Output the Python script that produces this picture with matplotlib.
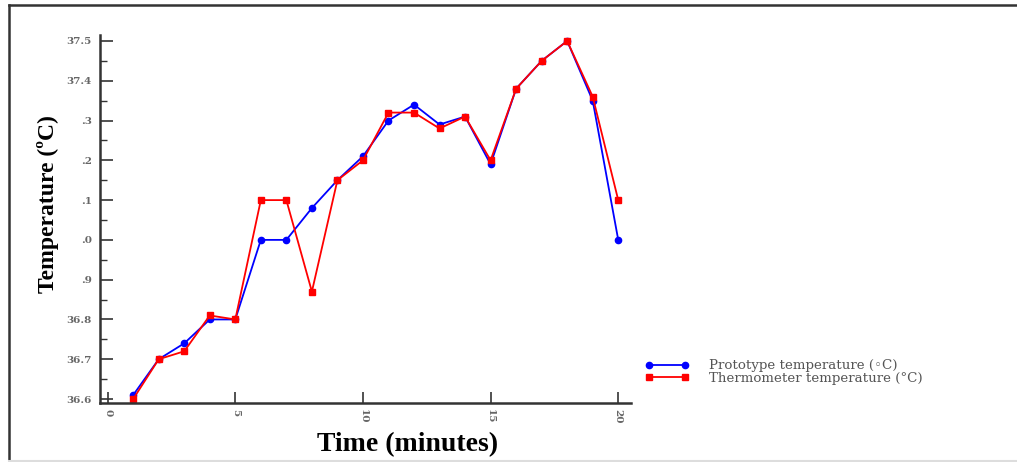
import matplotlib
matplotlib.use("Agg")
import matplotlib.pyplot as plt
from matplotlib.lines import Line2D
from matplotlib.ticker import MultipleLocator, FixedLocator, FixedFormatter

minutes = list(range(1, 21))
prototype_temp = [36.61, 36.70, 36.74, 36.80, 36.80, 37.00, 37.00, 37.08, 37.15, 37.21,
                  37.30, 37.34, 37.29, 37.31, 37.19, 37.38, 37.45, 37.50, 37.35, 37.00]
thermometer_temp = [36.60, 36.70, 36.72, 36.81, 36.80, 37.10, 37.10, 36.87, 37.15, 37.20,
                    37.32, 37.32, 37.28, 37.31, 37.20, 37.38, 37.45, 37.50, 37.36, 37.10]
y_ticks = [36.6, 36.7, 36.8, 36.9, 37.0, 37.1, 37.2, 37.3, 37.4, 37.5]
y_tick_labels = ["36.6", "36.7", "36.8", ".9", ".0", ".1", ".2", ".3", "37.4", "37.5"]
x_ticks = [0, 5, 10, 15, 20]

serif = ["Liberation Serif", "DejaVu Serif"]
small_serif = ["DejaVu Serif"]

fig = plt.figure(figsize=(10.17, 4.62), dpi=100)
ax = fig.add_axes([100 / 1017, 1 - 403 / 462, 531 / 1017, 368 / 462])

ax.plot(minutes, prototype_temp, color="#0000ff", lw=1.3, marker="o", ms=4.5,
        mec="#0000ff", mfc="#0000ff", label="Prototype temperature (\u25e6C)")
ax.plot(minutes, thermometer_temp, color="#ff0000", lw=1.3, marker="s", ms=5,
        mec="#ff0000", mfc="#ff0000", label="Thermometer temperature (\u00b0C)")

ax.set_xlim(-0.3, 20.5)
ax.set_ylim(36.59, 37.515)

ax.yaxis.set_major_locator(FixedLocator(y_ticks))
ax.yaxis.set_major_formatter(FixedFormatter(y_tick_labels))
ax.yaxis.set_minor_locator(MultipleLocator(0.05))
ax.xaxis.set_major_locator(FixedLocator(x_ticks))

for s in ("top", "right"):
    ax.spines[s].set_visible(False)
for s in ("left", "bottom"):
    ax.spines[s].set_linewidth(1.8)
    ax.spines[s].set_color("#333333")

ax.tick_params(axis="y", which="major", direction="in", length=9, width=1.2,
               color="#333333", labelsize=7.5, labelcolor="#666666", pad=6)
ax.tick_params(axis="y", which="minor", direction="in", length=5, width=1.0,
               color="#333333")
ax.tick_params(axis="x", which="major", direction="in", length=8, width=1.2,
               color="#333333", labelsize=7.5, labelcolor="#666666", pad=4,
               labelrotation=-90)
for lab in ax.get_xticklabels() + ax.get_yticklabels():
    lab.set_family(small_serif)
    lab.set_fontweight("bold")

ax.set_ylabel("Temperature (\u00baC)", family=serif, fontweight="bold",
              fontsize=17)
ax.yaxis.set_label_coords(-0.078, 0.54)
ax.set_xlabel("Time (minutes)", family=serif, fontweight="bold", fontsize=20)
ax.xaxis.set_label_coords(0.58, -0.08)

leg = fig.legend(loc="upper left", bbox_to_anchor=(640 / 1017, 1 - 354 / 462),
                 frameon=False, prop={"family": small_serif, "size": 9.6},
                 handlelength=3.3, handletextpad=1.5, labelspacing=-0.02,
                 borderaxespad=0, numpoints=2)
for t in leg.get_texts():
    t.set_color("#555555")

# figure frame
fig.add_artist(Line2D([8.5 / 1017, 8.5 / 1017], [0, 1 - 5 / 462],
                      transform=fig.transFigure, color="#333333", lw=1.8))
fig.add_artist(Line2D([8.5 / 1017, 1], [1 - 5 / 462, 1 - 5 / 462],
                      transform=fig.transFigure, color="#333333", lw=1.8))
fig.add_artist(Line2D([8.5 / 1017, 1], [1.5 / 462, 1.5 / 462],
                      transform=fig.transFigure, color="#dddddd", lw=1.5))

fig.savefig("out.png", dpi=100)
